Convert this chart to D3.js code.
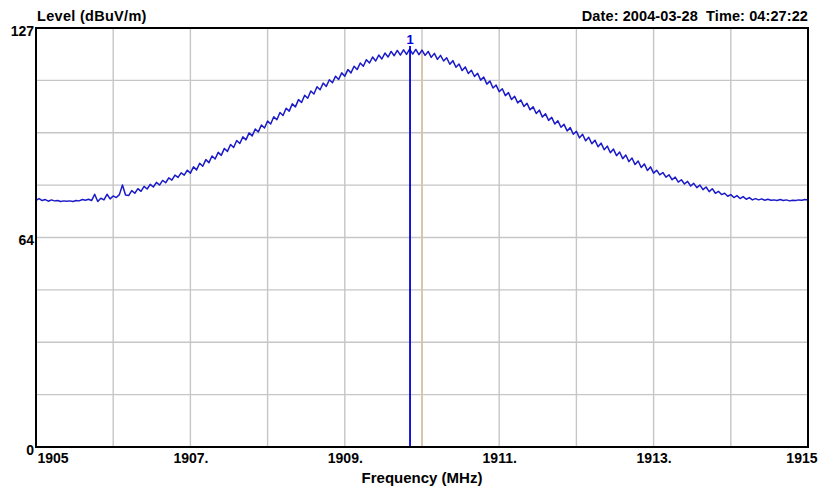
<!DOCTYPE html>
<html>
<head>
<meta charset="utf-8">
<script src="https://cdn.jsdelivr.net/npm/d3@7"></script>
<style>
  html, body { margin: 0; padding: 0; background: #ffffff; }
  svg { display: block; }
  text { font-family: "Liberation Sans", Arial, sans-serif; font-weight: bold; fill: #000; white-space: pre; }
</style>
</head>
<body>
<svg id="chart" width="822" height="489"></svg>
<script>
// ---- Data ----
const chartTitle = "Level (dBuV/m)";
const stampText = "Date: 2004-03-28  Time: 04:27:22";
const xAxisTitle = "Frequency (MHz)";
const freqStart = 1905;      // MHz, first sweep point
const freqStep = 0.04;       // MHz between sweep points
const levels = [
  74.8, 75.3, 74.7, 75.0, 74.5, 74.9, 74.6, 74.7, 74.4, 74.6,
  74.5, 74.6, 74.4, 74.7, 74.6, 75.0, 74.8, 75.1, 74.7, 76.6,
  74.4, 75.4, 74.9, 76.6, 75.2, 76.1, 75.6, 76.5, 79.4, 76.4,
  76.2, 77.7, 76.9, 78.3, 77.5, 79.0, 78.2, 79.6, 78.8, 80.2,
  79.4, 80.8, 80.1, 81.6, 80.9, 82.4, 81.7, 83.1, 82.4, 83.9,
  83.0, 84.9, 84.0, 86.0, 85.1, 87.1, 86.2, 88.2, 87.3, 89.3,
  88.4, 90.5, 89.6, 91.7, 90.8, 92.9, 92.0, 94.0, 93.1, 95.2,
  94.3, 96.4, 95.5, 97.6, 96.7, 98.8, 97.9, 100.1, 99.2, 101.4,
  100.5, 102.7, 101.8, 104.0, 103.1, 105.3, 104.4, 106.6, 105.7, 107.9,
  107.0, 109.2, 108.3, 110.3, 109.3, 111.3, 110.4, 112.4, 111.4, 113.4,
  112.4, 114.4, 113.4, 115.4, 114.4, 116.4, 115.4, 117.4, 116.4, 118.2,
  117.0, 118.8, 117.6, 119.4, 118.2, 119.9, 118.6, 120.2, 118.8, 120.4,
  119.0, 120.6, 119.1, 120.5, 118.9, 120.3, 118.7, 119.9, 118.1, 119.3,
  117.5, 118.7, 117.0, 118.0, 116.0, 117.1, 115.1, 116.1, 114.1, 115.2,
  113.2, 114.2, 112.3, 113.3, 111.2, 112.1, 110.0, 110.9, 108.8, 109.7,
  107.7, 108.6, 106.5, 107.4, 105.3, 106.3, 104.3, 105.2, 103.2, 104.2,
  102.2, 103.1, 101.1, 102.1, 100.0, 101.0, 99.0, 99.9, 97.9, 98.9,
  96.9, 97.8, 95.8, 96.8, 94.8, 95.7, 93.7, 94.8, 92.8, 93.9,
  91.9, 93.0, 91.0, 92.1, 90.1, 91.2, 89.2, 90.3, 88.3, 89.4,
  87.4, 88.5, 86.5, 87.6, 85.6, 86.7, 84.7, 85.8, 83.8, 84.9,
  83.0, 83.9, 82.5, 83.2, 81.8, 82.5, 81.0, 81.8, 80.3, 81.0,
  79.7, 80.5, 79.1, 79.9, 78.6, 79.4, 78.0, 78.8, 77.4, 78.3,
  76.9, 77.5, 76.5, 76.9, 76.0, 76.5, 75.6, 76.2, 75.3, 75.9,
  75.1, 75.6, 74.9, 75.3, 74.9, 75.2, 74.8, 75.1, 74.8, 74.9,
  74.7, 75.0, 74.7, 74.9, 74.6, 74.8, 74.7, 74.9, 74.8, 75.0,
  74.9
];
const xDomain = [1905, 1915];
const yDomain = [0, 127];
const xGridValues = [1906, 1907, 1908, 1909, 1910, 1911, 1912, 1913, 1914];
const xTickValues = [1905, 1907, 1909, 1911, 1913, 1915];
const xTickLabels = ["1905", "1907.", "1909.", "1911.", "1913.", "1915"];
const yGridValues = [15.875, 31.75, 47.625, 63.5, 79.375, 95.25, 111.125];
const yTickValues = [0, 63.5, 127];
const yTickLabels = ["0", "64", "127"];
const markerFreq = 1909.845;
const markerLabel = "1";
const centerFreq = 1910.0;
const centerLineTop = 120;

// ---- Layout ----
const W = 822, H = 489;
const margin = { left: 36, right: 14, top: 28, bottom: 42 };
const pw = W - margin.left - margin.right;
const ph = H - margin.top - margin.bottom;

const svg = d3.select("#chart");
svg.append("rect").attr("width", W).attr("height", H).attr("fill", "#fff");
const g = svg.append("g").attr("transform", `translate(${margin.left},${margin.top})`);

const x = d3.scaleLinear().domain(xDomain).range([0, pw]);
const y = d3.scaleLinear().domain(yDomain).range([ph, 0]);

// grid
g.append("g").selectAll("line").data(xGridValues).join("line")
  .attr("x1", d => x(d)).attr("x2", d => x(d)).attr("y1", 0).attr("y2", ph)
  .attr("stroke", "#c6c6c6").attr("stroke-width", 1.4);
g.append("g").selectAll("line").data(yGridValues).join("line")
  .attr("x1", 0).attr("x2", pw).attr("y1", d => y(d)).attr("y2", d => y(d))
  .attr("stroke", "#c6c6c6").attr("stroke-width", 1.4);

// centre frequency line (tan)
g.append("line")
  .attr("x1", x(centerFreq)).attr("x2", x(centerFreq))
  .attr("y1", y(centerLineTop)).attr("y2", ph)
  .attr("stroke", "#d8c3a0").attr("stroke-width", 1.6);

// trace
const data = levels.map((v, i) => ({ f: freqStart + i * freqStep, v }));
const line = d3.line().x(d => x(d.f)).y(d => y(d.v));
g.append("path").datum(data)
  .attr("d", line).attr("fill", "none")
  .attr("stroke", "#1a1ac8").attr("stroke-width", 1.5)
  .attr("stroke-linejoin", "round");

// marker
g.append("line")
  .attr("x1", x(markerFreq)).attr("x2", x(markerFreq))
  .attr("y1", 18).attr("y2", ph)
  .attr("stroke", "#0000e0").attr("stroke-width", 1.8);
g.append("text")
  .attr("x", x(markerFreq)).attr("y", 16)
  .attr("text-anchor", "middle").attr("font-size", 13)
  .style("fill", "#0000e0").text(markerLabel);

// frame
g.append("rect").attr("x", 0).attr("y", 0).attr("width", pw).attr("height", ph)
  .attr("fill", "none").attr("stroke", "#000").attr("stroke-width", 2);

// x axis labels
const xAxis = d3.axisBottom(x).tickValues(xTickValues)
  .tickFormat((d, i) => xTickLabels[i]).tickSize(0).tickPadding(0);
const xa = g.append("g").attr("transform", `translate(0,${ph})`).call(xAxis);
xa.select(".domain").remove();
xa.selectAll("text")
  .attr("font-size", 14).attr("font-family", null).attr("dy", null).attr("y", 16)
  .style("fill", "#000")
  .attr("text-anchor", (d, i) => i === 0 ? "start" : (i === xTickValues.length - 1 ? "end" : "middle"))
  .attr("dx", (d, i) => i === 0 ? 1 : (i === xTickValues.length - 1 ? 9 : 0));

// y axis labels
const yAxis = d3.axisLeft(y).tickValues(yTickValues)
  .tickFormat((d, i) => yTickLabels[i]).tickSize(0).tickPadding(2);
const ya = g.append("g").call(yAxis);
ya.select(".domain").remove();
ya.selectAll("text")
  .attr("font-size", 14).attr("font-family", null).attr("dy", "0.5em")
  .style("fill", "#000");

// titles
svg.append("text").attr("x", 37).attr("y", 21).attr("font-size", 14.5)
  .attr("letter-spacing", 0.3).text(chartTitle);
svg.append("text").attr("x", 808).attr("y", 21).attr("font-size", 14.5)
  .attr("text-anchor", "end").attr("letter-spacing", 0.1).text(stampText);
svg.append("text").attr("x", margin.left + pw / 2).attr("y", 483).attr("font-size", 15)
  .attr("text-anchor", "middle").text(xAxisTitle);
</script>
</body>
</html>
